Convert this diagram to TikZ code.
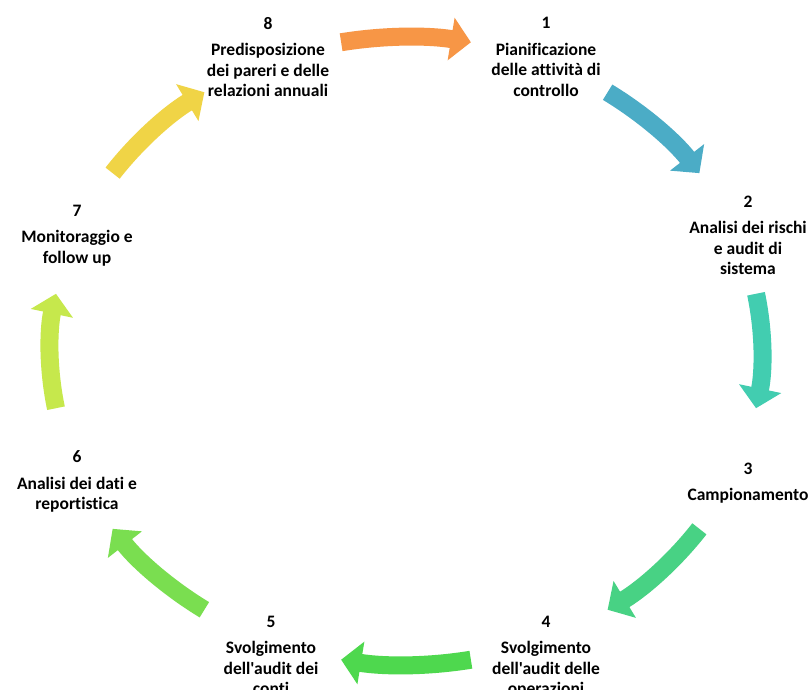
\documentclass[tikz,border=0pt]{standalone}
\usepackage{fontspec}
\setmainfont{Carlito}[Ligatures={TeXOff,NoCommon}]
\usetikzlibrary{arrows.meta,calc}
\definecolor{cOrange}{RGB}{247,150,70}
\definecolor{cBlue}{RGB}{75,172,198}
\definecolor{cTeal}{RGB}{66,205,176}
\definecolor{cGreenA}{RGB}{72,210,132}
\definecolor{cGreenB}{RGB}{78,216,78}
\definecolor{cGreenC}{RGB}{122,222,80}
\definecolor{cLime}{RGB}{198,232,76}
\definecolor{cYellow}{RGB}{240,212,70}
\begin{document}
\begin{tikzpicture}[x=1pt,y=1pt,
  lbl/.style={align=center, font=\fontsize{17.5}{20.5}\selectfont\bfseries, inner sep=0pt, anchor=north},
  blk/.style={line width=18pt, -{Triangle[width=42pt,length=20pt]}}]
\useasboundingbox (0,0) rectangle (808,690);
\clip (0,0) rectangle (808,690);
\fill[white] (0,0) rectangle (808,690);
\coordinate (C) at (406,339);
% labels
\node[lbl] (n8) at (268,673) {8\\[6pt]Predisposizione\\dei pareri e delle\\relazioni annuali};
\node[lbl] (n1) at (546,673) {1\\[6pt]Pianificazione\\delle attività di\\controllo};
\node[lbl] (n2) at (748,494.5) {2\\[6pt]Analisi dei rischi\\e audit di\\sistema};
\node[lbl] (n3) at (748,227.5) {3\\[6pt]Campionamento};
\node[lbl] (n4) at (546,74.5) {4\\[6pt]Svolgimento\\dell'audit delle\\operazioni};
\node[lbl] (n5) at (271,74.5) {5\\[6pt]Svolgimento\\dell'audit dei\\conti};
\node[lbl] (n6) at (77,239.5) {6\\[6pt]Analisi dei dati e\\reportistica};
\node[lbl] (n7) at (77,485.5) {7\\[6pt]Monitoraggio e\\follow up};
% arrow start points on the ellipse
\coordinate (s81) at ($(C)+(100.5:356 and 314)$);
\coordinate (s12) at ($(C)+(55.5:356 and 314)$);
\coordinate (s23) at ($(C)+(10.5:356 and 314)$);
\coordinate (s34) at ($(C)+(-34.5:356 and 314)$);
\coordinate (s45) at ($(C)+(-79.5:356 and 314)$);
\coordinate (s56) at ($(C)+(-124.5:356 and 314)$);
\coordinate (s67) at ($(C)+(-169.5:356 and 314)$);
\coordinate (s78) at ($(C)+(145.5:356 and 314)$);
\draw[blk, cOrange] (s81) arc[start angle=100.5, end angle=79.5, x radius=356, y radius=314];
\draw[blk, cBlue] (s12) arc[start angle=55.5, end angle=34.5, x radius=356, y radius=314];
\draw[blk, cTeal] (s23) arc[start angle=10.5, end angle=-10.5, x radius=356, y radius=314];
\draw[blk, cGreenA] (s34) arc[start angle=-34.5, end angle=-55.5, x radius=356, y radius=314];
\draw[blk, cGreenB] (s45) arc[start angle=-79.5, end angle=-100.5, x radius=356, y radius=314];
\draw[blk, cGreenC] (s56) arc[start angle=-124.5, end angle=-145.5, x radius=356, y radius=314];
\draw[blk, cLime] (s67) arc[start angle=-169.5, end angle=-190.5, x radius=356, y radius=314];
\draw[blk, cYellow] (s78) arc[start angle=145.5, end angle=124.5, x radius=356, y radius=314];
\end{tikzpicture}
\end{document}
